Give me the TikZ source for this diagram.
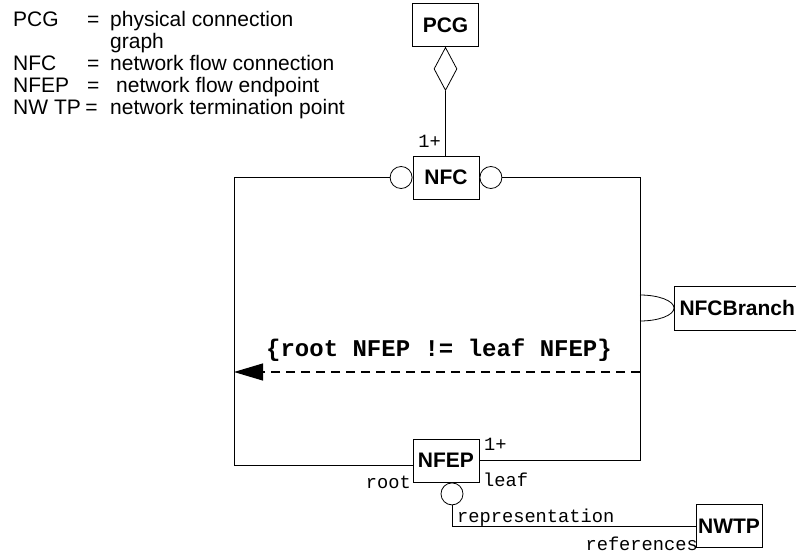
\documentclass[tikz,border=0pt]{standalone}
\usepackage{fontspec}
\setmainfont{Liberation Sans}
\setmonofont{Liberation Mono}
\usetikzlibrary{arrows.meta,shapes.geometric}

\begin{document}
\begin{tikzpicture}[x=1pt,y=-1pt,
    classbox/.style = {draw, line width=1pt, minimum width=66pt,
                       minimum height=43pt, inner sep=2pt,
                       font=\fontsize{21}{25}\selectfont\bfseries},
    legend/.style   = {anchor=base west, inner sep=0pt,
                       font=\fontsize{21}{25}\selectfont},
    rolelabel/.style= {inner sep=0pt, font=\ttfamily\fontsize{18.7}{21}\selectfont},
    lolly/.style    = {circle, draw, line width=0.8pt, minimum size=22pt,
                       inner sep=0pt, fill=white},
    assoc/.style    = {line width=0.8pt}]
\useasboundingbox (0,0) rectangle (796,554);

% legend
\node[legend] (lgPCG)    at (13,26)   {PCG};
\node[legend] (lgPCGeq)  at (87,26)   {=};
\node[legend] (lgPCGa)   at (110,26)  {physical connection};
\node[legend] (lgPCGb)   at (110,48)  {graph};
\node[legend] (lgNFC)    at (13,70)   {NFC};
\node[legend] (lgNFCeq)  at (87,70)   {=};
\node[legend] (lgNFCa)   at (110,70)  {network flow connection};
\node[legend] (lgNFEP)   at (13,92)   {NFEP};
\node[legend] (lgNFEPeq) at (87,92)   {=};
\node[legend] (lgNFEPa)  at (116,92)  {network flow endpoint};
\node[legend] (lgNWTP)   at (13,114)  {NW TP};
\node[legend] (lgNWTPeq) at ([xshift=4pt]lgNWTP.base east) {=};
\node[legend] (lgNWTPa)  at (110,114) {network termination point};

% classes
\node[classbox] (pcg)  at (445.5,25)  {PCG};
\node[classbox] (nfc)  at (446,177.5) {NFC};
\node[classbox] (nfep) at (446,460.5) {NFEP};
\node[classbox] (nwtp) at (729,526)   {NWTP};
\node[classbox, anchor=west, minimum height=44pt, inner xsep=5pt] (branch) at (674,308) {NFCBranch};

% aggregation PCG -- NFC
\node[diamond, draw, line width=0.8pt, minimum width=23pt, minimum height=43pt,
      inner sep=0pt, anchor=north] (agg) at (pcg.south) {};
\draw[assoc] (agg.south) -- (agg.south |- nfc.north);
\node[rolelabel, anchor=base east] (mNFC) at (441,147) {1+};

% lollipops
\node[lolly, anchor=east]  (nfcL)  at (nfc.west) {};
\node[lolly, anchor=west]  (nfcR)  at (nfc.east) {};
\node[lolly, anchor=north] (nfepC) at ([xshift=6pt]nfep.south) {};

% root / leaf associations
\coordinate (lft) at (234,0);
\coordinate (rgt) at (640,0);
\draw[assoc] (nfcL.west) -| ([yshift=-4.5pt]nfep.west -| lft) -- ([yshift=-4.5pt]nfep.west);
\draw[assoc] (nfcR.east) -| (nfep.east -| rgt) -- (nfep.east);
\node[rolelabel, anchor=base east] (mRoot) at (411,488) {root};
\node[rolelabel, anchor=base west] (mLeaf) at (483,486) {leaf};
\node[rolelabel, anchor=base west] (mMany) at (484,450) {1+};

% NFCBranch
\draw[assoc] (branch.west) ++(-34,-13) arc[start angle=-90, end angle=90, x radius=34, y radius=13];

% constraint
\coordinate (cstrR) at (640,372);
\coordinate (cstrL) at (234,372);
\draw[line width=1.2pt, dash pattern=on 9pt off 6pt, -{Triangle[length=29pt,width=17pt]}] (cstrR) -- (cstrL);
\node[inner sep=0pt, font=\ttfamily\bfseries\fontsize{24}{27}\selectfont] (cstr) at (439,350)
  {\{root NFEP != leaf NFEP\}};

% NFEP -- NWTP
\draw[assoc] (nfepC.south) |- (nwtp.west);
\node[rolelabel, anchor=base west] (mRep) at (457,522) {representation};
\node[rolelabel, anchor=base east] (mRef) at (698,550) {references};

\end{tikzpicture}
\end{document}
